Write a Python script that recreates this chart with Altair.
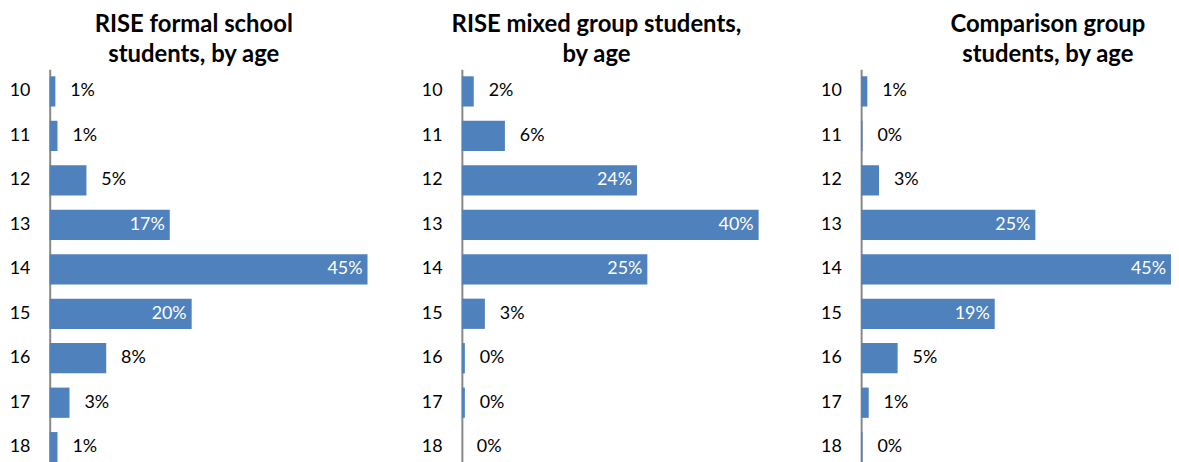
import altair as alt
import pandas as pd

ages = ["10", "11", "12", "13", "14", "15", "16", "17", "18"]
formal = [0.8, 1.1, 5.2, 17.0, 45.0, 20.1, 8.0, 2.8, 1.1]
mixed = [1.6, 5.8, 23.6, 40.0, 25.0, 3.1, 0.4, 0.4, 0.0]
comparison = [0.9, 0.2, 2.6, 25.3, 45.0, 19.4, 5.3, 1.1, 0.2]
titles = [
    ["RISE formal school", "students, by age"],
    ["RISE mixed group students,", "by age"],
    ["Comparison group", "students, by age"],
]

FONT = "Lato"


def panel(vals, title, width, dmax, dx):
    df = pd.DataFrame({"age": ages, "pct": vals})
    base = alt.Chart(df).transform_calculate(lab="format(datum.pct, '.0f') + '%'")
    y = alt.Y(
        "age:N",
        sort=ages,
        title=None,
        scale=alt.Scale(paddingInner=0.32, paddingOuter=0.16),
        axis=alt.Axis(
            domainColor="#888888",
            domainWidth=2,
            ticks=False,
            labelPadding=20,
            labelFontSize=18,
            labelFont=FONT,
            labelColor="#000000",
            grid=False,
        ),
    )
    x = alt.X("pct:Q", scale=alt.Scale(domain=[0, dmax], nice=False), axis=None)
    bars = base.mark_bar(color="#4F81BD").encode(x=x, y=y)
    inside = (
        base.transform_filter("datum.pct >= 15")
        .mark_text(align="right", dx=-5, color="white", font=FONT, fontSize=18)
        .encode(x=x, y=y, text="lab:N")
    )
    outside = (
        base.transform_filter("datum.pct < 15")
        .mark_text(align="left", dx=15, color="black", font=FONT, fontSize=18)
        .encode(x=x, y=y, text="lab:N")
    )
    return alt.layer(bars, inside, outside).properties(
        width=width,
        height=403,
        title=alt.TitleParams(
            text=title,
            font=FONT,
            fontSize=24,
            fontWeight="bold",
            color="#000000",
            anchor="middle",
            frame="group",
            dx=dx,
            offset=2,
            lineHeight=30,
        ),
    )


chart = (
    alt.hconcat(
        panel(formal, titles[0], 320, 45, -15),
        panel(mixed, titles[1], 307, 41.1, -18),
        panel(comparison, titles[2], 312, 45, 32),
        spacing=54,
    )
    .properties(padding={"left": 1, "top": 4, "right": 0, "bottom": 0})
    .configure(background="white")
    .configure_view(stroke=None)
)

chart.save("out.html", embed_options={"renderer": "svg", "actions": False})
